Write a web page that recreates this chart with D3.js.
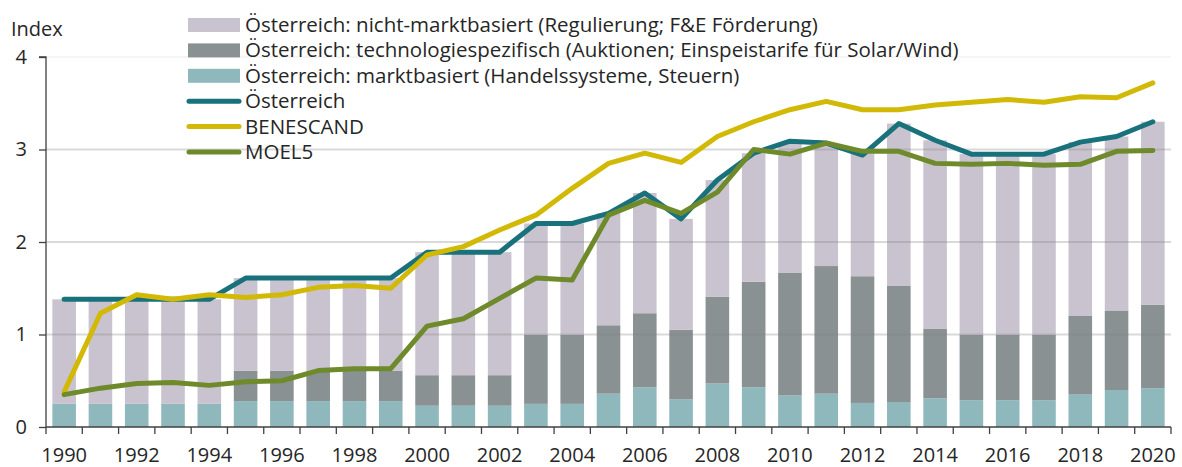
<!DOCTYPE html>
<html>
<head>
<meta charset="utf-8">
<script src="https://cdn.jsdelivr.net/npm/d3@7"></script>
<style>
  html, body { margin: 0; padding: 0; background: #fff; }
  svg { display: block; font-family: "Open Sans", sans-serif; }
</style>
</head>
<body>
<svg id="chart" width="1182" height="467"></svg>
<script>
// Jahre
const years = d3.range(1990, 2021);

// Gestapelte Balken: Österreich nach Instrumententyp (Index-Beiträge)
const marktbasiert = [0.25, 0.25, 0.25, 0.25, 0.25, 0.28, 0.28, 0.28, 0.28, 0.28,
  0.23, 0.23, 0.23, 0.25, 0.25, 0.36, 0.43, 0.30, 0.47, 0.43,
  0.34, 0.36, 0.26, 0.27, 0.31, 0.29, 0.29, 0.29, 0.35, 0.40, 0.42];
const technologiespezifisch = [0, 0, 0, 0, 0, 0.33, 0.33, 0.33, 0.33, 0.33,
  0.33, 0.33, 0.33, 0.75, 0.75, 0.74, 0.80, 0.75, 0.94, 1.14,
  1.33, 1.38, 1.37, 1.26, 0.75, 0.71, 0.71, 0.71, 0.85, 0.86, 0.90];
const nichtMarktbasiert = [1.13, 1.13, 1.13, 1.13, 1.13, 1.00, 1.00, 1.00, 1.00, 1.00,
  1.33, 1.33, 1.33, 1.20, 1.20, 1.21, 1.30, 1.20, 1.26, 1.39,
  1.40, 1.31, 1.33, 1.75, 2.04, 1.95, 1.95, 1.95, 1.88, 1.88, 1.98];

// Linien
const oesterreich = [1.38, 1.38, 1.38, 1.38, 1.38, 1.61, 1.61, 1.61, 1.61, 1.61,
  1.89, 1.89, 1.89, 2.20, 2.20, 2.31, 2.53, 2.25, 2.67, 2.96,
  3.09, 3.07, 2.94, 3.28, 3.10, 2.95, 2.95, 2.95, 3.08, 3.14, 3.30];
const benescand = [0.38, 1.23, 1.43, 1.38, 1.43, 1.40, 1.43, 1.51, 1.53, 1.50,
  1.86, 1.95, 2.13, 2.29, 2.58, 2.85, 2.96, 2.86, 3.14, 3.30,
  3.43, 3.52, 3.43, 3.43, 3.48, 3.51, 3.54, 3.51, 3.57, 3.56, 3.72];
const moel5 = [0.35, 0.42, 0.47, 0.48, 0.45, 0.49, 0.50, 0.61, 0.63, 0.63,
  1.09, 1.17, 1.39, 1.61, 1.59, 2.29, 2.45, 2.31, 2.54, 3.00,
  2.95, 3.07, 2.98, 2.98, 2.85, 2.84, 2.85, 2.83, 2.84, 2.98, 2.99];

const yTicks = [0, 1, 2, 3, 4];
const xLabelYears = d3.range(1990, 2021, 2);

const barSeries = [
  { key: "markt", label: "Österreich: marktbasiert (Handelssysteme, Steuern)", values: marktbasiert, color: "#8fb8bd" },
  { key: "tech", label: "Österreich: technologiespezifisch (Auktionen; Einspeistarife für Solar/Wind)", values: technologiespezifisch, color: "#8a9192" },
  { key: "nicht", label: "Österreich: nicht-marktbasiert (Regulierung; F&E Förderung)", values: nichtMarktbasiert, color: "#c9c3cf" }
];
const lineSeries = [
  { label: "Österreich", values: oesterreich, color: "#19727b" },
  { label: "BENESCAND", values: benescand, color: "#d2b906" },
  { label: "MOEL5", values: moel5, color: "#6e8a2b" }
];

const svg = d3.select("#chart");
const plotLeft = 46, plotRight = 1171, plotTop = 57, plotBottom = 427;
const textColor = "#262626";
const fontSize = 20;

const x = d3.scaleBand().domain(years).range([plotLeft, plotRight]).paddingInner(0.35).paddingOuter(0.175);
const y = d3.scaleLinear().domain([0, 4]).range([plotBottom, plotTop]);

// Stapel
const rows = years.map((yr, i) => {
  const r = { year: yr };
  barSeries.forEach(s => r[s.key] = s.values[i]);
  return r;
});
const stack = d3.stack().keys(barSeries.map(s => s.key))(rows);

svg.append("g").selectAll("g")
  .data(stack).join("g")
  .attr("fill", (d, i) => barSeries[i].color)
  .selectAll("rect").data(d => d).join("rect")
  .attr("x", d => x(d.data.year))
  .attr("width", x.bandwidth())
  .attr("y", d => y(d[1]))
  .attr("height", d => y(d[0]) - y(d[1]));

// Gitterlinien über den Balken
svg.append("g").selectAll("line")
  .data(yTicks.filter(t => t > 0)).join("line")
  .attr("x1", plotLeft).attr("x2", plotRight)
  .attr("y1", d => y(d)).attr("y2", d => y(d))
  .attr("stroke", "#808080")
  .attr("stroke-opacity", d => d === 4 ? 0.08 : 0.3)
  .attr("stroke-width", 2);

// Linien
const line = d3.line()
  .x((d, i) => x(years[i]) + x.bandwidth() / 2)
  .y(d => y(d));
svg.append("g").selectAll("path")
  .data(lineSeries).join("path")
  .attr("d", d => line(d.values))
  .attr("fill", "none")
  .attr("stroke", d => d.color)
  .attr("stroke-width", 5)
  .attr("stroke-linejoin", "round")
  .attr("stroke-linecap", "round");

// Achsen
const yAxis = d3.axisLeft(y).tickValues(yTicks).tickSize(7).tickPadding(12).tickFormat(d3.format("d"));
const gy = svg.append("g").attr("transform", `translate(${plotLeft},0)`).call(yAxis);
gy.select(".domain").attr("stroke", "#404040").attr("stroke-width", 1.3).attr("d", `M-7,${plotTop}H0V${plotBottom}`);
gy.selectAll(".tick line").attr("stroke", "#404040").attr("stroke-width", 1.3);
gy.selectAll(".tick text").attr("font-size", fontSize).attr("fill", textColor).attr("font-family", "Open Sans, sans-serif");

const xBounds = years.map(yr => x(yr) - x.step() * x.paddingInner() / 2).concat([plotRight]);
const gx = svg.append("g");
gx.append("line").attr("x1", plotLeft).attr("x2", plotRight).attr("y1", plotBottom).attr("y2", plotBottom)
  .attr("stroke", "#404040").attr("stroke-width", 1.3);
gx.selectAll("line.tick").data(xBounds).join("line").attr("class", "tick")
  .attr("x1", d => d).attr("x2", d => d).attr("y1", plotBottom).attr("y2", plotBottom + 7)
  .attr("stroke", "#404040").attr("stroke-width", 1.3);
gx.selectAll("text").data(xLabelYears).join("text")
  .attr("x", d => x(d) + x.bandwidth() / 2)
  .attr("y", 462)
  .attr("text-anchor", "middle")
  .attr("font-size", fontSize)
  .attr("fill", textColor)
  .text(d => d);

svg.append("text").attr("x", 11).attr("y", 36).attr("font-size", fontSize).attr("fill", textColor).text("Index");

// Legende
const legendItems = [
  { type: "rect", ...barSeries[2] },
  { type: "rect", ...barSeries[1] },
  { type: "rect", ...barSeries[0] },
  ...lineSeries.map(s => ({ type: "line", ...s }))
];
const lg = svg.append("g");
legendItems.forEach((it, i) => {
  const cy = 25 + i * 25.4;
  if (it.type === "rect") {
    lg.append("rect").attr("x", 188).attr("y", cy - 7).attr("width", 52).attr("height", 14).attr("fill", it.color);
  } else {
    lg.append("line").attr("x1", 189).attr("x2", 239).attr("y1", cy).attr("y2", cy)
      .attr("stroke", it.color).attr("stroke-width", 5).attr("stroke-linecap", "round");
  }
  lg.append("text").attr("x", 245).attr("y", cy + 7).attr("font-size", 20.5).attr("fill", textColor).text(it.label);
});
</script>
</body>
</html>
